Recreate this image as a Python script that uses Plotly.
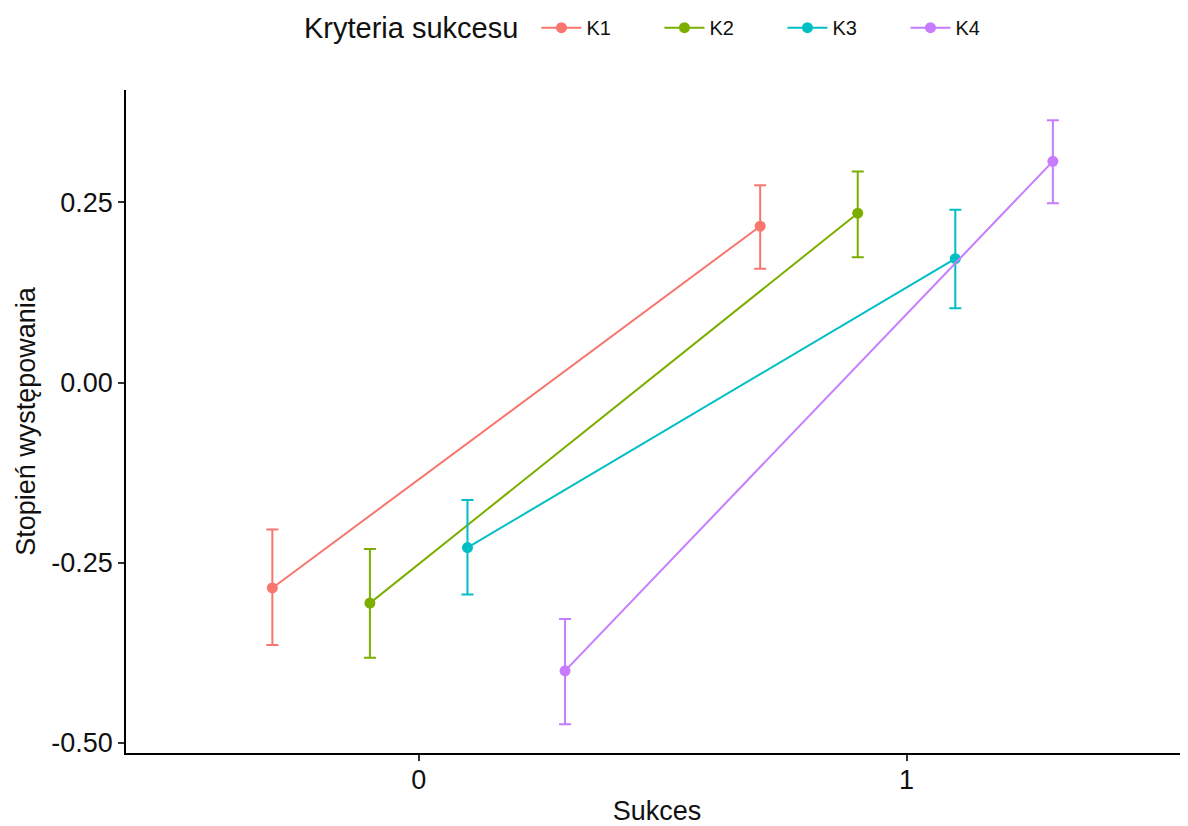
import plotly.graph_objects as go

categories = ["0", "1"]
series = ["K1", "K2", "K3", "K4"]
colors = ["#F8766D", "#7CAE00", "#00BFC4", "#C77CFF"]
means = {
    "K1": [-0.285, 0.217],
    "K2": [-0.306, 0.235],
    "K3": [-0.229, 0.172],
    "K4": [-0.400, 0.307],
}
lower = {
    "K1": [-0.364, 0.158],
    "K2": [-0.382, 0.174],
    "K3": [-0.294, 0.103],
    "K4": [-0.474, 0.249],
}
upper = {
    "K1": [-0.204, 0.274],
    "K2": [-0.231, 0.293],
    "K3": [-0.163, 0.240],
    "K4": [-0.328, 0.364],
}
dodge = [-0.3, -0.1, 0.1, 0.3]

fig = go.Figure()
for i, s in enumerate(series):
    xs = [j + dodge[i] for j in range(len(categories))]
    m = means[s]
    fig.add_trace(go.Scatter(
        x=xs, y=m, mode="lines+markers", name=s,
        line=dict(color=colors[i], width=2),
        marker=dict(color=colors[i], size=11),
        error_y=dict(type="data", symmetric=False,
                     array=[u - v for u, v in zip(upper[s], m)],
                     arrayminus=[v - l for v, l in zip(m, lower[s])],
                     color=colors[i], thickness=2, width=6),
    ))

# page body has an 8px default margin, so the figure is sized to fit the window
fig.update_layout(
    width=1180, height=818,
    paper_bgcolor="white", plot_bgcolor="white",
    margin=dict(l=118, r=0, t=82, b=73, autoexpand=False),
    font=dict(family="Liberation Sans, Arial, sans-serif", size=20, color="#111111"),
    legend=dict(orientation="h", x=0.3865, xanchor="left", y=1.094, yanchor="middle",
                font=dict(size=20), itemwidth=40,
                entrywidth=68, entrywidthmode="pixels"),
    showlegend=True,
    annotations=[dict(text="Kryteria sukcesu", xref="paper", yref="paper",
                      x=0.1658, y=1.094, xanchor="left", yanchor="middle",
                      showarrow=False, font=dict(size=29, color="#111111"))],
)
fig.update_xaxes(
    range=[-0.6, 1.577], tickvals=[0, 1], ticktext=categories,
    showline=True, linecolor="#000000", linewidth=1.5,
    ticks="outside", ticklen=6, tickcolor="#333333", tickwidth=1.5,
    showgrid=False, zeroline=False, ticklabelstandoff=-4,
    tickfont=dict(size=27, color="#111111"),
    title=dict(text="Sukces", font=dict(size=27), standoff=8),
)
fig.update_yaxes(
    range=[-0.514, 0.406], tickvals=[-0.5, -0.25, 0, 0.25],
    ticktext=["-0.50", "-0.25", "0.00", "0.25"],
    showline=True, linecolor="#000000", linewidth=1.5,
    ticks="outside", ticklen=6, tickcolor="#333333", tickwidth=1.5,
    showgrid=False, zeroline=False,
    tickfont=dict(size=27, color="#111111"),
    title=dict(text="Stopień występowania", font=dict(size=27), standoff=8),
)
fig.write_html("out.html")
